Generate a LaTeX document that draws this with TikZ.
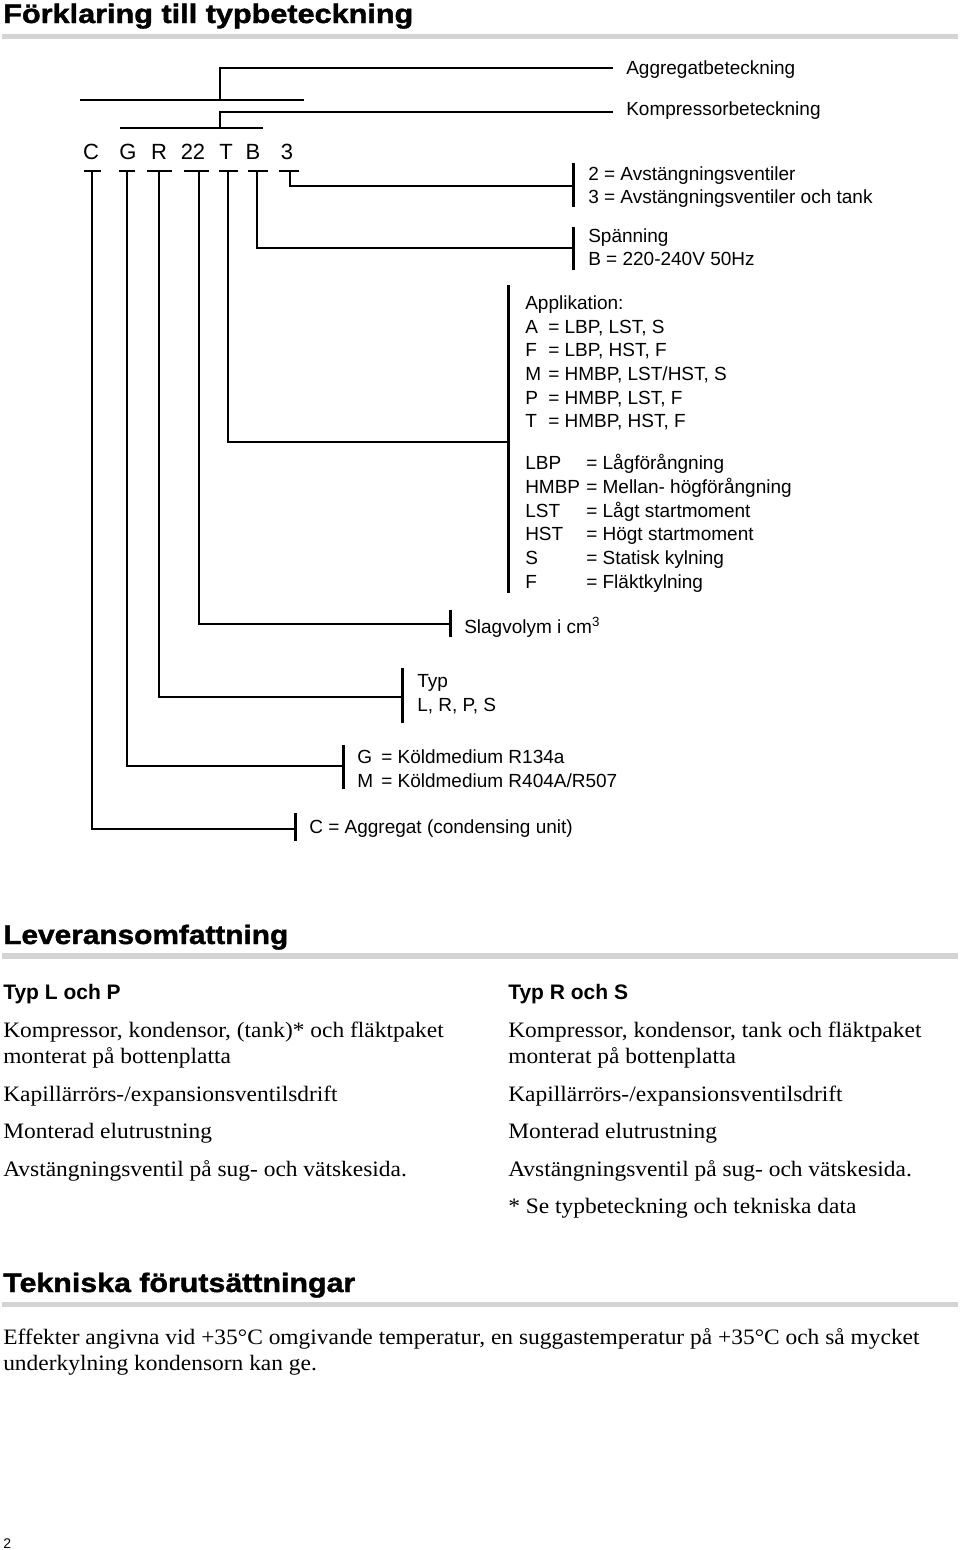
\documentclass[tikz,border=0pt]{standalone}
\usepackage{fontspec}
\usepackage{graphicx}
\setmainfont{Liberation Sans}
\newfontfamily\seriffont{Liberation Serif}
\newfontfamily\blackfont{Liberation Sans Bold}[FakeBold=1.4]
\definecolor{rulegray}{RGB}{212,212,212}
\newlength\fitw
\newcommand\fitx[2]{\settowidth\fitw{#2}\pgfmathsetmacro\fitr{(#1)/\fitw}\scalebox{\fitr}[1]{#2}}
\newcommand\bt[1]{\scalebox{1.065}[1]{#1}}
\tikzset{
  lbl/.style={anchor=base west, inner sep=0pt, font=\fontsize{14.25}{18}\selectfont},
  code/.style={anchor=base, inner sep=0pt, font=\fontsize{16.5}{20}\selectfont},
  conn/.style={line width=1.5pt},
  endbar/.style={line width=2.25pt},
  heading/.style={anchor=base west, inner sep=0pt, font=\blackfont\fontsize{20}{24}\selectfont},
  subhead/.style={anchor=base west, inner sep=0pt, font=\bfseries\fontsize{15.75}{18}\selectfont},
  body/.style={anchor=base west, inner sep=0pt, font=\seriffont\fontsize{16.5}{20}\selectfont},
}
\begin{document}
\begin{tikzpicture}[x=0.75pt,y=-0.75pt]
\useasboundingbox (0,0) rectangle (960,1550);

% ---------- title ----------
\node[heading] (title) at (3,23) {\fitx{307.5pt}{Förklaring till typbeteckning}};
\fill[rulegray] (2,34) rectangle (958,39);

% ---------- code letters ----------
\node[code] (lC) at (91,159) {C};
\node[code] (lG) at (128,159) {G};
\node[code] (lR) at (159,159) {R};
\node[code] (l22) at (193,159) {22};
\node[code] (lT) at (226,159) {T};
\node[code] (lB) at (253,159) {B};
\node[code] (l3) at (287,159) {3};

% T-bars under the letters
\draw[conn] (84,171) -- (101,171);
\draw[conn] (119,171) -- (135,171);
\draw[conn] (147,171) -- (172,171);
\draw[conn] (184,171) -- (209,171);
\draw[conn] (219,171) -- (238,171);
\draw[conn] (248,171) -- (268,171);
\draw[conn] (279,171) -- (299,171);

\coordinate (tC) at (92,171);
\coordinate (tG) at (127,171);
\coordinate (tR) at (159,171);
\coordinate (t22) at (199,171);
\coordinate (tT) at (228,171);
\coordinate (tB) at (257,171);
\coordinate (t3) at (290,171);

% ---------- top brackets ----------
\draw[conn] (80,100) -- (304,100);
\draw[conn] (120,128) -- (263,128);
\coordinate (agg0) at (220,100);
\coordinate (komp0) at (220,128);
\coordinate (aggE) at (613,68);
\coordinate (kompE) at (613,112);
\draw[conn] (agg0) |- (aggE);
\draw[conn] (komp0) |- (kompE);
\node[lbl] (agg) at (626,74) {Aggregatbeteckning};
\node[lbl] (komp) at (626,115) {Kompressorbeteckning};

% ---------- end bars ----------
\coordinate (b3) at (573,186);
\coordinate (bB) at (573,248);
\coordinate (bT) at (508,442);
\coordinate (b22) at (450,624);
\coordinate (bR) at (402,697);
\coordinate (bG) at (343,766);
\coordinate (bC) at (295,829);

\draw[conn] (t3) |- (b3);
\draw[conn] (tB) |- (bB);
\draw[conn] (tT) |- (bT);
\draw[conn] (t22) |- (b22);
\draw[conn] (tR) |- (bR);
\draw[conn] (tG) |- (bG);
\draw[conn] (tC) |- (bC);

\draw[endbar] (573,163) -- (573,207);
\draw[endbar] (573,227) -- (573,270);
\draw[endbar] (508,285) -- (508,593);
\draw[endbar] (450,610) -- (450,637);
\draw[endbar] (402,668) -- (402,723);
\draw[endbar] (343,745) -- (343,789);
\draw[endbar] (295,813) -- (295,841);

% ---------- labels ----------
\node[lbl] (v2) at (588,180) {2 = Avstängningsventiler};
\node[lbl] (v3) at (588,203) {3 = Avstängningsventiler och tank};
\node[lbl] (sp1) at (588,242) {Spänning};
\node[lbl] (sp2) at (588,265) {B = 220-240V 50Hz};

\node[lbl] (app) at (525,309) {Applikation:};
\foreach \k/\t/\y in {A/{= LBP, LST, S}/333, F/{= LBP, HST, F}/356, M/{= HMBP, LST/HST, S}/380, P/{= HMBP, LST, F}/404, T/{= HMBP, HST, F}/427}{
  \node[lbl] (ak\y) at (525,\y) {\k};
  \node[lbl] (av\y) at (548,\y) {\t};
}
\foreach \k/\t/\y in {LBP/{= Lågförångning}/469, HMBP/{= Mellan- högförångning}/493, LST/{= Lågt startmoment}/517, HST/{= Högt startmoment}/540, S/{= Statisk kylning}/564, F/{= Fläktkylning}/588}{
  \node[lbl] (dk\y) at (525,\y) {\k};
  \node[lbl] (dv\y) at (586,\y) {\t};
}

\node[lbl] (slag) at (464,633) {Slagvolym i cm\textsuperscript{3}};
\node[lbl] (typ1) at (417,687) {Typ};
\node[lbl] (typ2) at (417,711) {L, R, P, S};
\node[lbl] (gk1) at (357,763) {G};
\node[lbl] (gv1) at (381,763) {= Köldmedium R134a};
\node[lbl] (gk2) at (357,787) {M};
\node[lbl] (gv2) at (381,787) {= Köldmedium R404A/R507};
\node[lbl] (cagg) at (309,833) {C = Aggregat (condensing unit)};

% ---------- Leveransomfattning ----------
\node[heading] (lev) at (3,944) {\fitx{213.75pt}{Leveransomfattning}};
\fill[rulegray] (2,953) rectangle (958,959);

\node[subhead] (typlp) at (3,999) {Typ L och P};
\node[subhead] (typrs) at (508,999) {Typ R och S};

\node[body] (l1) at (3,1037) {\bt{Kompressor, kondensor, (tank)* och fläktpaket}};
\node[body] (l2) at (3,1063) {\bt{monterat på bottenplatta}};
\node[body] (l3) at (3,1101) {\bt{Kapillärrörs-/expansionsventilsdrift}};
\node[body] (l4) at (3,1138) {\bt{Monterad elutrustning}};
\node[body] (l5) at (3,1176) {\bt{Avstängningsventil på sug- och vätskesida.}};

\node[body] (r1) at (508,1037) {\bt{Kompressor, kondensor, tank och fläktpaket}};
\node[body] (r2) at (508,1063) {\bt{monterat på bottenplatta}};
\node[body] (r3) at (508,1101) {\bt{Kapillärrörs-/expansionsventilsdrift}};
\node[body] (r4) at (508,1138) {\bt{Monterad elutrustning}};
\node[body] (r5) at (508,1176) {\bt{Avstängningsventil på sug- och vätskesida.}};
\node[body] (r6) at (508,1213) {\bt{* Se typbeteckning och tekniska data}};

% ---------- Tekniska förutsättningar ----------
\node[heading] (tek) at (3,1292) {\fitx{264pt}{Tekniska förutsättningar}};
\fill[rulegray] (2,1302) rectangle (958,1307);
\node[body] (e1) at (3,1344) {\bt{Effekter angivna vid +35°C omgivande temperatur, en suggastemperatur på +35°C och så mycket}};
\node[body] (e2) at (3,1370) {\bt{underkylning kondensorn kan ge.}};

\node[anchor=base west, inner sep=0pt, font=\fontsize{10.5}{12}\selectfont] (pg) at (3,1548) {2};
\end{tikzpicture}
\end{document}
